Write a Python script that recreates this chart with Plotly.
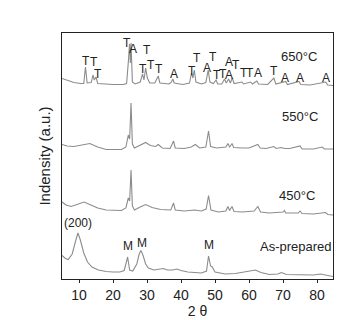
import plotly.graph_objects as go

# ---- data (2-theta in degrees, intensity in arbitrary units) ----
tt_650 = [5.0, 6.5, 8.5, 10.5, 11.4, 11.9, 12.4, 13.6, 14.1, 14.5, 15.0, 15.5, 17, 20, 23, 24.0, 24.6, 24.85, 25.1, 25.3, 25.7, 26.5,
          28.0, 28.7, 29.1, 29.6, 30.1, 30.8, 32.3, 33.3, 33.8, 36.5, 37.2, 37.6, 38.0, 40.5, 42.5, 43.1, 43.5, 43.9, 44.4, 46,
          47.3, 48.0, 48.5, 49.5, 50.3, 50.8, 52, 52.8, 53.3, 54.0, 54.5, 55.1, 55.6, 57.9, 58.4, 60.5, 61, 62.3, 62.8, 65.5,
          67.3, 67.9, 70.8, 71.3, 74.7, 75.2, 78, 82.6, 83.1, 84.7]
px_650 = [70.5, 72.5, 74.5, 75.5, 75.5, 59, 75, 74.5, 67, 72, 69, 75.5, 76, 76.5, 76.5, 75.5, 50, 36, 55, 35, 74, 76,
          74, 66, 72, 60, 70, 75, 75, 68, 75, 76, 74, 71, 75, 76.5, 75, 65, 70, 62, 74, 76,
          74.5, 62, 74, 75.5, 72, 76, 76, 71, 75, 71, 75, 70, 75.5, 74, 76, 74, 76, 73, 76, 76.5,
          70, 76, 73.5, 76.5, 73.5, 76.5, 77, 74, 77, 77.5]

tt_550 = [5.0, 6.5, 8.5, 10.5, 13.2, 15.5, 18, 22.5, 23.8, 24.5, 24.9, 25.3, 25.7, 26.3, 28, 29.6, 31, 32.5, 33.3, 34.5,
          36.8, 37.8, 38.3, 41, 43, 44.2, 45.5, 47.3, 48.1, 48.7, 50.5, 53.2, 53.8, 54.3, 55.0, 55.5, 58, 60, 62.6, 63.3,
          65, 67.3, 68, 69.4, 70.5, 72, 75.0, 75.6, 79, 81.5, 82.2, 84.7]
px_550 = [136.5, 138, 138.5, 137.5, 135.5, 139, 141.5, 141.5, 139, 127, 131, 95, 136, 140, 137, 134.5, 137.5, 138.5, 136.5, 140,
          140.5, 133, 140, 140.5, 139, 136.5, 140, 139, 123, 138.5, 140, 139, 135.5, 139, 135.5, 139.5, 140, 140, 136.5, 140,
          140.5, 138.5, 140.5, 139.5, 140.5, 140.5, 138, 141, 141, 139, 141, 141]

tt_450 = [5.0, 6.2, 7.7, 9.5, 11.5, 13.5, 15.5, 18, 22.5, 23.8, 24.5, 24.9, 25.3, 25.7, 26.3, 28, 29.6, 31.5, 34, 37,
          37.8, 38.3, 41, 44, 46, 47.4, 48.1, 48.8, 51, 53.2, 53.8, 54.3, 55.0, 55.6, 58, 61.5, 62.6, 63.4, 66, 70,
          70.4, 70.8, 74.5, 75.0, 75.6, 79, 82.5, 83.2, 84.7]
px_450 = [194, 197, 198.5, 196.5, 194, 197, 200, 202, 202.5, 200, 190, 193, 162, 198, 202, 199, 196.5, 199.5, 201.5, 202,
          195, 202, 203, 202, 203, 201, 187.5, 202, 204, 203, 198.5, 202.5, 198.5, 203.5, 204, 203, 198.5, 204, 205, 204,
          202.5, 205, 205, 203, 205.5, 206, 204.5, 206.5, 207]

tt_asp = [5.0, 6.0, 6.8, 8.0, 9.0, 9.7, 10.4, 11.4, 12.5, 13.8, 15.7, 18, 20, 22, 23.3, 24.3, 24.9, 25.8, 27.0, 27.7,
          28.2, 28.8, 29.6, 30.4, 32, 33.5, 34.8, 36, 37.5, 38.8, 40, 42, 44, 46, 47.5, 48.1, 48.7, 49.2, 50, 53,
          56, 59, 61.9, 63.5, 66, 68.5, 69.5, 71, 75, 79, 81, 83, 84.7]
px_asp = [247.5, 250.5, 251.5, 246, 233, 225, 232, 245, 254, 259, 262, 263.5, 264, 264, 262.5, 249, 262, 263, 256, 246,
          242.5, 247, 256, 260, 262, 261.5, 260.5, 262, 262, 261, 262.5, 264, 264.5, 265, 263, 248, 258, 259, 264, 266,
          265.5, 264, 262, 264.5, 266.5, 266, 264.5, 266.5, 267, 267, 266, 267.5, 268.5]

BASE = 271  # intensity = BASE - read level
int_650 = [BASE - v for v in px_650]
int_550 = [BASE - v for v in px_550]
int_450 = [BASE - v for v in px_450]
int_asp = [BASE - v for v in px_asp]

x_ticks = [10, 20, 30, 40, 50, 60, 70, 80]

# peak labels: (text, 2theta, intensity)
peak_labels = [
    ("T", 12.0, 218), ("T", 14.5, 217), ("T", 15.6, 205), ("T", 24.2, 236), ("A", 25.9, 230),
    ("T", 28.8, 210), ("T", 30.1, 229), ("T", 31.2, 214), ("T", 33.6, 210), ("A", 37.8, 205),
    ("T", 43.2, 208), ("T", 44.6, 221), ("A", 47.6, 211), ("T", 49.5, 222), ("T", 50.7, 204),
    ("T", 52.4, 205), ("A", 54.2, 204), ("A", 54.0, 217), ("T", 56.1, 214), ("T", 58.4, 206),
    ("T", 60.4, 206), ("A", 62.6, 206), ("T", 67.3, 208), ("A", 70.5, 201), ("A", 75.0, 201),
    ("A", 82.6, 201),
]
asp_labels = [("(200)", 9.7, 56), ("M", 24.3, 33), ("M", 28.4, 36), ("M", 48.1, 34)]
series_labels = [("650°C", 74.7, 223), ("550°C", 75.0, 163), ("450°C", 74.2, 84), ("As-prepared", 73.8, 33)]

FONT = "Liberation Sans, Arial, sans-serif"
LINE = dict(color="#8c8c8c", width=1.1)

fig = go.Figure()
for xs, ys in [(tt_650, int_650), (tt_550, int_550), (tt_450, int_450), (tt_asp, int_asp)]:
    fig.add_trace(go.Scatter(x=xs, y=ys, mode="lines", line=LINE, showlegend=False, hoverinfo="skip"))

ann = []
for t, x, y in peak_labels:
    ann.append(dict(text=t, x=x, y=y, xref="x", yref="y", showarrow=False,
                    font=dict(family=FONT, size=12, color="#222")))
for t, x, y in asp_labels:
    ann.append(dict(text=t, x=x, y=y, xref="x", yref="y", showarrow=False,
                    font=dict(family=FONT, size=12, color="#222")))
for t, x, y in series_labels:
    ann.append(dict(text=t, x=x, y=y, xref="x", yref="y", showarrow=False,
                    font=dict(family=FONT, size=13, color="#222")))

fig.update_layout(
    width=360, height=320,
    margin=dict(l=54, r=35, t=25, b=49),
    paper_bgcolor="white", plot_bgcolor="white",
    annotations=ann,
    font=dict(family=FONT, color="#222"),
    xaxis=dict(range=[5, 84.7], tickvals=x_ticks, ticks="outside", ticklen=3, tickwidth=1,
               tickcolor="#222", showline=True, linecolor="#222", linewidth=1, mirror=True,
               showgrid=False, zeroline=False, tickfont=dict(size=14, family=FONT),
               title=dict(text="2 θ", font=dict(size=14, family=FONT), standoff=0)),
    yaxis=dict(range=[0, 246], showticklabels=False, ticks="", showline=True, linecolor="#222",
               linewidth=1.3, mirror=True, showgrid=False, zeroline=False,
               title=dict(text="Indensity (a.u.)", font=dict(size=15, family=FONT), standoff=6)),
)

fig.write_html("out.html")
